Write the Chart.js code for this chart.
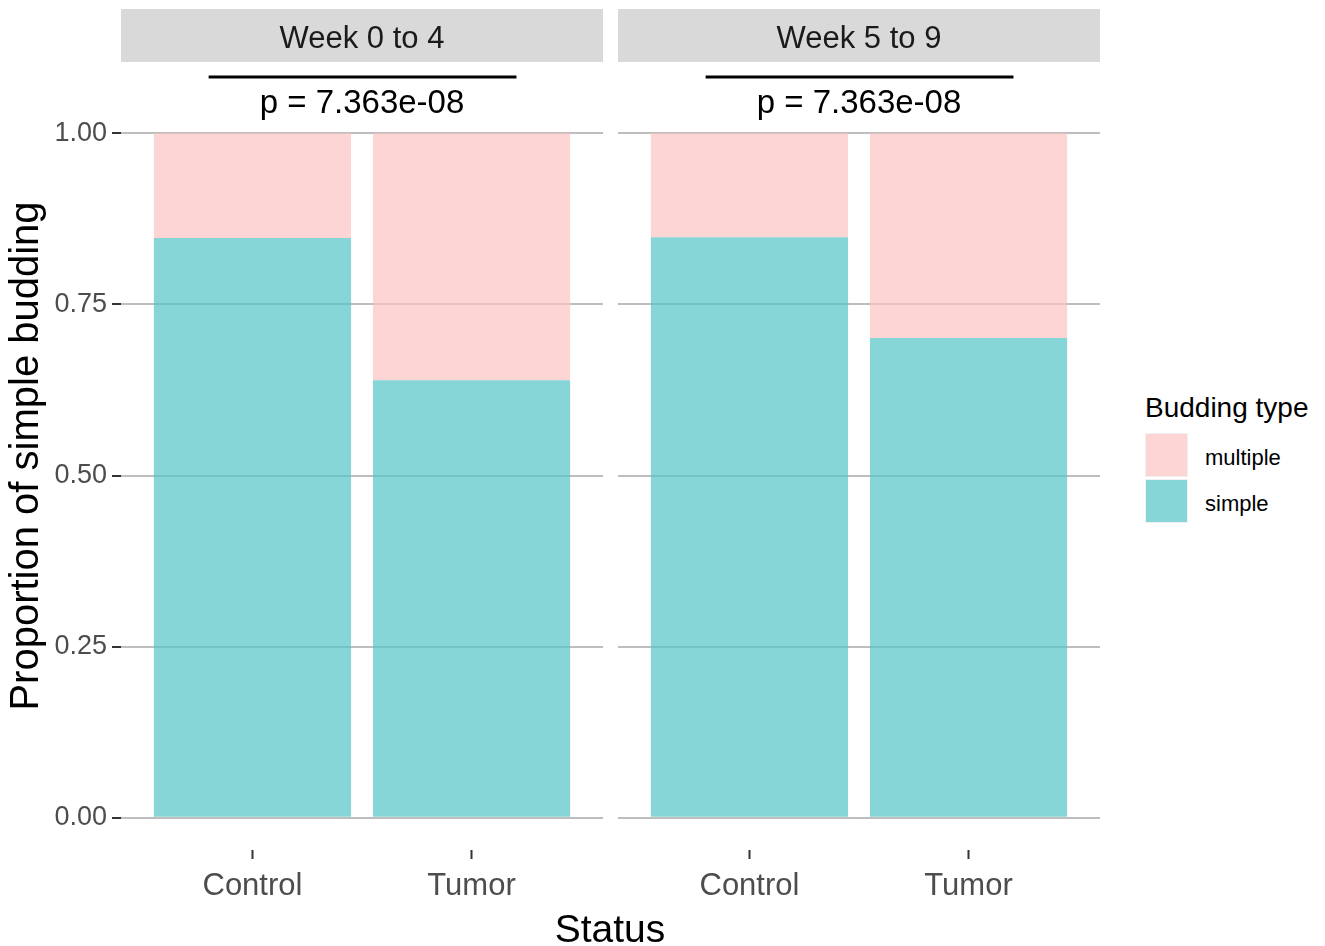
<!DOCTYPE html>
<html>
<head>
<meta charset="utf-8">
<script src="https://cdn.jsdelivr.net/npm/chart.js@4"></script>
<style>
  html, body { margin:0; padding:0; background:#fff; width:1325px; height:946px; overflow:hidden; }
  body { position:relative; font-family:"Liberation Sans", Arial, sans-serif; }
  canvas { position:absolute; top:0; }
  .abs { position:absolute; white-space:nowrap; }
</style>
</head>
<body>
<canvas id="c1" width="603" height="946" style="left:0px"></canvas>
<canvas id="c2" width="482" height="946" style="left:618px"></canvas>
<div class="abs" id="xtitle" style="left:610px; top:929px; transform:translate(-50%,-50%); font-size:39px; color:#000;"></div>
<div class="abs" id="legendTitle" style="left:1145px; top:408px; transform:translateY(-50%); font-size:28px; color:#000;"></div>
<div class="abs" id="legendBox" style="left:1145px; top:433px;"></div>
<script>
// ---- data ----
const categories = ['Control', 'Tumor'];
const panelTitles = ['Week 0 to 4', 'Week 5 to 9'];
const seriesNames = ['multiple', 'simple'];
const simpleWeek0to4 = [0.847, 0.639];
const multipleWeek0to4 = [0.153, 0.361];
const simpleWeek5to9 = [0.848, 0.701];
const multipleWeek5to9 = [0.152, 0.299];
const pValueLabels = ['p = 7.363e-08', 'p = 7.363e-08'];
const yTickValues = [0, 0.25, 0.5, 0.75, 1];
const yAxisTitle = 'Proportion of simple budding';
const xAxisTitle = 'Status';
const legendTitle = 'Budding type';

// ---- styles ----
const FONT = '"Liberation Sans", Arial, sans-serif';
const colSimple = 'rgba(84,196,198,0.7)';
const colMultiple = 'rgba(252,195,195,0.7)';
const colSimpleSolid = '#87D6D7';
const colMultipleSolid = '#FDD5D5';
const gridColor = '#BEBEBE';

const panelPlugin = {
  id: 'panelDecor',
  afterDraw(chart, args, opts) {
    const ctx = chart.ctx;
    const ca = chart.chartArea;
    const xs = chart.scales.x, ys = chart.scales.y;
    ctx.save();
    // strip
    ctx.fillStyle = '#D9D9D9';
    ctx.fillRect(ca.left, 9, ca.right - ca.left, 53);
    ctx.fillStyle = '#1A1A1A';
    ctx.font = '31px ' + FONT;
    ctx.textAlign = 'center';
    ctx.textBaseline = 'middle';
    ctx.fillText(opts.title, (ca.left + ca.right) / 2, 39);
    // significance bracket
    const yl = ys.getPixelForValue(1.082);
    ctx.strokeStyle = '#000';
    ctx.lineWidth = 3;
    ctx.beginPath();
    ctx.moveTo(xs.getPixelForValue(-0.2), yl);
    ctx.lineTo(xs.getPixelForValue(1.205), yl);
    ctx.stroke();
    ctx.fillStyle = '#000';
    ctx.font = '33px ' + FONT;
    ctx.fillText(opts.pLabel, xs.getPixelForValue(0.5), ys.getPixelForValue(1.043));
    ctx.restore();
  }
};

function toPoints(vals) { return vals.map((v, i) => ({ x: i, y: v })); }

function makeChart(id, simpleVals, multipleVals, title, pLabel, showY) {
  return new Chart(document.getElementById(id), {
    type: 'bar',
    data: {
      datasets: [
        { label: seriesNames[1], data: toPoints(simpleVals), backgroundColor: colSimple, borderWidth: 0,
          barPercentage: 0.9, categoryPercentage: 1.0 },
        { label: seriesNames[0], data: toPoints(multipleVals), backgroundColor: colMultiple, borderWidth: 0,
          barPercentage: 0.9, categoryPercentage: 1.0 }
      ]
    },
    options: {
      responsive: false,
      animation: false,
      devicePixelRatio: 1,
      layout: { padding: { top: 62, bottom: 0, left: 0, right: 0 } },
      plugins: {
        legend: { display: false },
        tooltip: { enabled: false },
        panelDecor: { title: title, pLabel: pLabel }
      },
      scales: {
        x: {
          type: 'linear',
          stacked: true,
          offset: false,
          min: -0.6, max: 1.6,
          afterBuildTicks: s => { s.ticks = categories.map((c, i) => ({ value: i })); },
          afterFit: s => { s.height = 96; },
          ticks: {
            callback: v => categories[v] ?? '',
            font: { family: FONT, size: 31 },
            color: '#4D4D4D',
            padding: 9,
            maxRotation: 0, autoSkip: false
          },
          grid: { offset: false, drawOnChartArea: false, drawTicks: true, tickLength: 9, tickColor: '#333333', tickWidth: 2 },
          border: { display: false }
        },
        y: {
          type: 'linear',
          stacked: true,
          min: -0.047, max: 1.104,
          afterBuildTicks: s => { s.ticks = yTickValues.map(v => ({ value: v })); },
          afterFit: s => { s.width = showY ? 121 : 0; },
          ticks: {
            display: showY,
            callback: v => v.toFixed(2),
            font: { family: FONT, size: 27 },
            color: '#4D4D4D',
            padding: 5
          },
          grid: { color: gridColor, lineWidth: 2, drawTicks: showY, tickLength: 9, tickColor: '#333333', tickWidth: 2 },
          border: { display: false },
          title: {
            display: showY,
            text: yAxisTitle,
            font: { family: FONT, size: 40 },
            color: '#000',
            padding: { top: 3, bottom: 0 }
          }
        }
      }
    },
    plugins: [panelPlugin]
  });
}

makeChart('c1', simpleWeek0to4, multipleWeek0to4, panelTitles[0], pValueLabels[0], true);
makeChart('c2', simpleWeek5to9, multipleWeek5to9, panelTitles[1], pValueLabels[1], false);

document.getElementById('xtitle').textContent = xAxisTitle;
document.getElementById('legendTitle').textContent = legendTitle;
const lb = document.getElementById('legendBox');
[[seriesNames[0], colMultipleSolid], [seriesNames[1], colSimpleSolid]].forEach(([name, col], i) => {
  const key = document.createElement('div');
  key.className = 'abs';
  key.style.cssText = `left:0px; top:${i * 46}px; width:41px; height:42px; background:${col}; border:1px solid #F0F0F0;`;
  lb.appendChild(key);
  const lab = document.createElement('div');
  lab.className = 'abs';
  lab.style.cssText = `left:60px; top:${i * 46 + 25}px; transform:translateY(-50%); font-size:22px; color:#000;`;
  lab.textContent = name;
  lb.appendChild(lab);
});
</script>
</body>
</html>
